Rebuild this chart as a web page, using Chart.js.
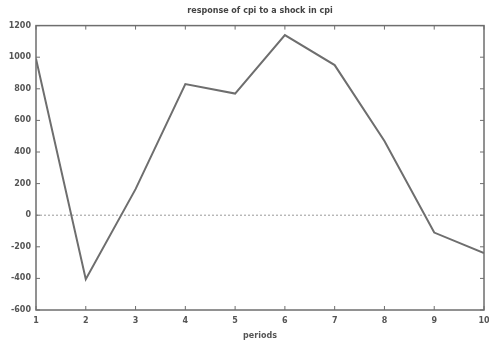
<!DOCTYPE html>
<html>
<head>
<meta charset="utf-8">
<script src="https://cdn.jsdelivr.net/npm/chart.js@4.4.0/dist/chart.umd.min.js"></script>
<style>
  html, body { margin: 0; padding: 0; background: #fff; }
  #wrap { width: 489px; height: 341px; }
</style>
</head>
<body>
<div id="wrap"><canvas id="grafica"></canvas></div>
<script>
// datos
const periodos = [1, 2, 3, 4, 5, 6, 7, 8, 9, 10];
const respuesta = [990, -405, 165, 830, 770, 1140, 950, 470, -110, -240];
const ticksY = [-600, -400, -200, 0, 200, 400, 600, 800, 1000, 1200];

const gris = '#6e6e6e';
const fuente = { family: 'DejaVu Sans', size: 8, weight: 'bold' };

// marco estilo gnuplot con marcas hacia dentro y linea de cero punteada
const marco = {
  id: 'marco',
  beforeDatasetsDraw(chart) {
    const { ctx, chartArea: a, scales: { y } } = chart;
    const y0 = y.getPixelForValue(0);
    ctx.save();
    ctx.strokeStyle = '#9a9a9a';
    ctx.lineWidth = 1;
    ctx.setLineDash([2, 2]);
    ctx.beginPath();
    ctx.moveTo(a.left, y0);
    ctx.lineTo(a.right, y0);
    ctx.stroke();
    ctx.restore();
  },
  afterDraw(chart) {
    const { ctx, chartArea: a, scales: { x, y } } = chart;
    ctx.save();
    ctx.strokeStyle = gris;
    ctx.lineWidth = 1.5;
    ctx.strokeRect(a.left, a.top, a.right - a.left, a.bottom - a.top);
    ctx.lineWidth = 1;
    ctx.beginPath();
    x.ticks.forEach(t => {
      const px = x.getPixelForValue(t.value);
      ctx.moveTo(px, a.bottom); ctx.lineTo(px, a.bottom - 4);
      ctx.moveTo(px, a.top); ctx.lineTo(px, a.top + 4);
    });
    y.ticks.forEach(t => {
      const py = y.getPixelForValue(t.value);
      ctx.moveTo(a.left, py); ctx.lineTo(a.left + 4, py);
      ctx.moveTo(a.right, py); ctx.lineTo(a.right - 4, py);
    });
    ctx.stroke();
    ctx.restore();
  }
};

const ctx = document.getElementById('grafica').getContext('2d');
const grafica = new Chart(ctx, {
  type: 'line',
  data: {
    labels: periodos,
    datasets: [{
      label: 'cpi',
      data: periodos.map((p, i) => ({ x: p, y: respuesta[i] })),
      borderColor: gris,
      borderWidth: 2,
      pointRadius: 0,
      tension: 0,
      fill: false
    }]
  },
  options: {
    responsive: true,
    maintainAspectRatio: false,
    animation: false,
    layout: { padding: { top: 0, right: 5, left: 0, bottom: 0 } },
    plugins: {
      legend: { display: false },
      tooltip: { enabled: false },
      title: {
        display: true,
        fullSize: false,
        text: 'response of cpi to a shock in cpi',
        color: '#444',
        font: fuente,
        padding: { top: 6, bottom: 10 }
      }
    },
    scales: {
      x: {
        type: 'linear',
        min: 1,
        max: 10,
        afterFit: s => { s.height = 31; s.paddingRight = 0; s.paddingLeft = 0; },
        afterBuildTicks: s => { s.ticks = periodos.map(v => ({ value: v })); },
        grid: { display: false, drawTicks: false },
        border: { display: false },
        ticks: { color: '#555', font: fuente, padding: 6, maxRotation: 0, callback: v => String(v) },
        title: { display: true, text: 'periods', color: '#555', font: fuente, padding: 0 }
      },
      y: {
        min: -600,
        max: 1200,
        afterFit: s => { s.width = 36; s.paddingTop = 0; s.paddingBottom = 0; },
        afterBuildTicks: s => { s.ticks = ticksY.map(v => ({ value: v })); },
        grid: { display: false, drawTicks: false },
        border: { display: false },
        ticks: { color: '#555', font: fuente, padding: 5, callback: v => String(v) }
      }
    }
  },
  plugins: [marco]
});
</script>
</body>
</html>
